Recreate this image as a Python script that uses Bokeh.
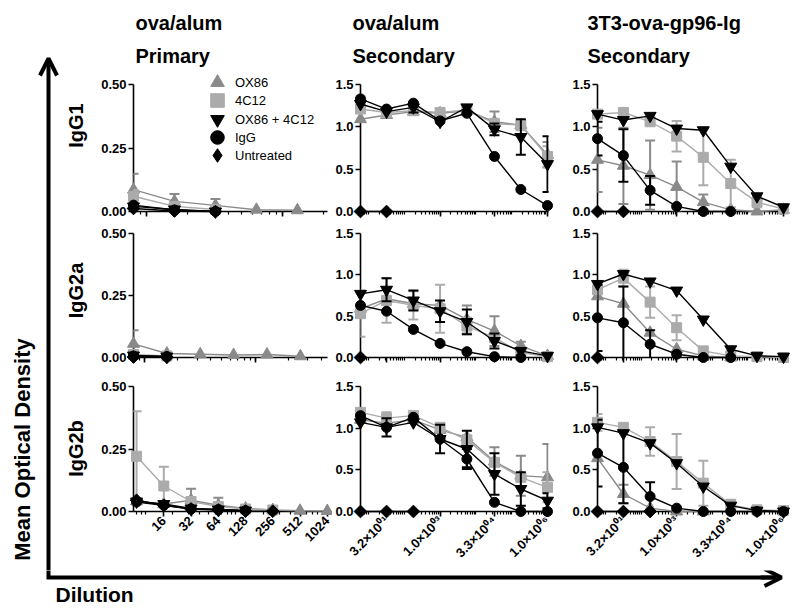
import math
from bokeh.plotting import figure
from bokeh.layouts import row, column
from bokeh.models import (Range1d, ColumnDataSource, Whisker, TeeHead, FixedTicker,
                          Legend, LegendItem, Arrow, OpenHead, Label,
                          NumeralTickFormatter, CustomJSTickFormatter)
from bokeh.embed import file_html
from bokeh.resources import INLINE

FONT = "Liberation Sans"

# ---------------------------------------------------------------- data
SERIES_NAMES = ["OX86", "4C12", "OX86 + 4C12", "IgG", "Untreated"]
ROW_LABELS = ["IgG1", "IgG2a", "IgG2b"]
COL_TITLE_1 = ["ova/alum", "ova/alum", "3T3-ova-gp96-Ig"]
COL_TITLE_2 = ["Primary", "Secondary", "Secondary"]

PRI_X_IGG1 = [8, 16, 32, 64, 128]
PRI_X_IGG2A = [8, 16, 32, 64, 128, 256]
PRI_X_IGG2B = [8, 16, 32, 64, 128, 256, 512, 1024]
SEC_X = [6, 32, 180, 1000, 5600, 33000, 180000, 1000000]

PRI_TICKS = [16, 32, 64, 128, 256, 512, 1024]
SEC_TICKS = [32, 1000, 33000, 1000000]
SEC_TICK_LABELS = ["3.2×10⁰¹", "1.0×10⁰³", "3.3×10⁰⁴", "1.0×10⁰⁶"]
PRI_Y_TICKS = [0, 0.25, 0.5]
SEC_Y_TICKS = [0, 0.5, 1.0, 1.5]

# IgG1 - ova/alum primary
A1_OX86 = [0.086, 0.040, 0.024, 0.007, 0.005]
A1_OX86_ERR = [0.063, 0.029, 0.025, 0, 0]
A1_4C12 = [0.060, 0.020, 0.008]
A1_4C12_ERR = [0.025, 0.015, 0]
A1_DUAL = [0.020, 0.008, 0.0]
A1_IGG = [0.025, 0.006, 0.0]
A1_UNT = [0.012, 0.002, 0.0]

# IgG2a - ova/alum primary
A2_OX86 = [0.055, 0.016, 0.013, 0.010, 0.012, 0.005]
A2_OX86_ERR = [0.055, 0, 0, 0, 0, 0]
A2_4C12 = [0.012, 0.006]
A2_4C12_ERR = [0, 0]
A2_DUAL = [0.008, 0.004]
A2_IGG = [0.006, 0.004]
A2_UNT = [0.002, 0.001]

# IgG2b - ova/alum primary
A3_OX86 = [0.040, 0.030, 0.045, 0.025, 0.012, 0.006, 0.003, 0.002]
A3_OX86_ERR = [0, 0, 0.046, 0.030, 0, 0, 0, 0]
A3_4C12 = [0.221, 0.102, 0.040, 0.020, 0.010, 0.006]
A3_4C12_ERR = [0.180, 0.077, 0, 0, 0, 0]
A3_DUAL = [0.040, 0.030, 0.012, 0.008, 0.004]
A3_IGG = [0.038, 0.025, 0.010, 0.008, 0.003]
A3_UNT = [0.045, 0.025, 0.010, 0.006, 0.002, 0.001]

# IgG1 - ova/alum secondary
B1_OX86 = [1.09, 1.14, 1.18, 1.16, 1.19, 1.06, 1.02, 0.67]
B1_OX86_ERR = [0, 0, 0, 0, 0, 0.12, 0, 0.15]
B1_4C12 = [1.21, 1.17, 1.19, 1.17, 1.20, 1.04, 1.02, 0.65]
B1_4C12_ERR = [0, 0, 0, 0, 0, 0, 0.06, 0.12]
B1_DUAL = [1.27, 1.18, 1.23, 1.06, 1.23, 0.97, 0.88, 0.56]
B1_DUAL_ERR = [0, 0, 0.06, 0, 0, 0.07, 0.21, 0.33]
B1_IGG = [1.33, 1.21, 1.28, 1.07, 1.16, 0.65, 0.26, 0.07]
B1_UNT = [0.0, 0.0]

# IgG2a - ova/alum secondary
B2_OX86 = [0.59, 0.71, 0.65, 0.63, 0.46, 0.32, 0.14, 0.02]
B2_OX86_ERR = [0, 0, 0, 0, 0.17, 0.18, 0.05, 0]
B2_4C12 = [0.53, 0.69, 0.63, 0.59, 0.38, 0.24, 0.06, 0.01]
B2_4C12_ERR = [0.28, 0.27, 0.17, 0.29, 0.10, 0, 0, 0]
B2_DUAL = [0.77, 0.82, 0.69, 0.56, 0.43, 0.20, 0.08, 0.02]
B2_DUAL_ERR = [0, 0.14, 0.12, 0.13, 0.15, 0.09, 0, 0]
B2_IGG = [0.63, 0.56, 0.34, 0.17, 0.07, 0.01, 0.0]
B2_UNT = [0.0]

# IgG2b - ova/alum secondary
B3_OX86 = [1.10, 1.06, 1.10, 0.98, 0.89, 0.60, 0.43, 0.41]
B3_OX86_ERR = [0, 0, 0, 0, 0, 0.17, 0.24, 0.40]
B3_4C12 = [1.19, 1.12, 1.15, 1.01, 0.86, 0.59, 0.41, 0.29]
B3_4C12_ERR = [0, 0.07, 0, 0, 0, 0, 0, 0.18]
B3_DUAL = [1.07, 1.01, 1.07, 0.87, 0.75, 0.45, 0.27, 0.13]
B3_DUAL_ERR = [0, 0.11, 0, 0.17, 0.22, 0.25, 0.20, 0.09]
B3_IGG = [1.15, 1.01, 1.13, 0.87, 0.63, 0.11, 0.0, 0.0]
B3_IGG_ERR = [0, 0, 0, 0, 0.12, 0, 0, 0]
B3_UNT = [0.0, 0.0, 0.0]

# IgG1 - 3T3-ova-gp96-Ig secondary
C1_OX86 = [0.61, 0.54, 0.43, 0.29, 0.11, 0.02, 0.0, 0.02]
C1_OX86_ERR = [0.38, 0.45, 0.41, 0.30, 0.09, 0, 0, 0]
C1_4C12 = [1.15, 1.17, 1.06, 0.89, 0.64, 0.33, 0.11, 0.03]
C1_4C12_ERR = [0, 0, 0, 0.18, 0.33, 0.28, 0.06, 0]
C1_DUAL = [1.15, 1.08, 1.13, 0.98, 0.96, 0.53, 0.18, 0.05]
C1_IGG = [0.86, 0.66, 0.25, 0.06, 0.0, 0.0]
C1_IGG_ERR = [0.20, 0.31, 0.17, 0, 0, 0]
C1_UNT = [0.0, 0.0]

# IgG2a - 3T3-ova-gp96-Ig secondary
C2_OX86 = [0.74, 0.65, 0.30, 0.10, 0.02, 0.0]
C2_4C12 = [0.82, 0.96, 0.67, 0.36, 0.08, 0.02, 0.01, 0.0]
C2_4C12_ERR = [0, 0.10, 0.19, 0.15, 0, 0, 0, 0]
C2_DUAL = [0.89, 1.01, 0.92, 0.81, 0.46, 0.10, 0.02, 0.01]
C2_IGG = [0.48, 0.42, 0.16, 0.04, 0.0, 0.0]
C2_IGG_ERR = [0.40, 0.44, 0.17, 0, 0, 0]
C2_UNT = [0.0]

# IgG2b - 3T3-ova-gp96-Ig secondary
C3_OX86 = [0.64, 0.21, 0.04, 0.0, 0.0]
C3_OX86_ERR = [0, 0.11, 0, 0, 0]
C3_4C12 = [1.07, 1.01, 0.84, 0.60, 0.34, 0.08, 0.02, 0.01]
C3_4C12_ERR = [0.10, 0, 0.17, 0.33, 0.27, 0.06, 0, 0]
C3_DUAL = [1.01, 0.94, 0.82, 0.58, 0.30, 0.07, 0.01, 0.0]
C3_IGG = [0.70, 0.53, 0.18, 0.04, 0.0, 0.0, 0.0, 0.0]
C3_IGG_ERR = [0.40, 0.43, 0.17, 0, 0, 0, 0, 0]
C3_UNT = [0.0, 0.0, 0.0]

# ---------------------------------------------------------------- assembly
PANELS = [
    [  # row IgG1
        (PRI_X_IGG1, [A1_OX86, A1_4C12, A1_DUAL, A1_IGG, A1_UNT],
         [A1_OX86_ERR, A1_4C12_ERR, None, None, None]),
        (SEC_X, [B1_OX86, B1_4C12, B1_DUAL, B1_IGG, B1_UNT],
         [B1_OX86_ERR, B1_4C12_ERR, B1_DUAL_ERR, None, None]),
        (SEC_X, [C1_OX86, C1_4C12, C1_DUAL, C1_IGG, C1_UNT],
         [C1_OX86_ERR, C1_4C12_ERR, None, C1_IGG_ERR, None]),
    ],
    [  # row IgG2a
        (PRI_X_IGG2A, [A2_OX86, A2_4C12, A2_DUAL, A2_IGG, A2_UNT],
         [A2_OX86_ERR, A2_4C12_ERR, None, None, None]),
        (SEC_X, [B2_OX86, B2_4C12, B2_DUAL, B2_IGG, B2_UNT],
         [B2_OX86_ERR, B2_4C12_ERR, B2_DUAL_ERR, None, None]),
        (SEC_X, [C2_OX86, C2_4C12, C2_DUAL, C2_IGG, C2_UNT],
         [None, C2_4C12_ERR, None, C2_IGG_ERR, None]),
    ],
    [  # row IgG2b
        (PRI_X_IGG2B, [A3_OX86, A3_4C12, A3_DUAL, A3_IGG, A3_UNT],
         [A3_OX86_ERR, A3_4C12_ERR, None, None, None]),
        (SEC_X, [B3_OX86, B3_4C12, B3_DUAL, B3_IGG, B3_UNT],
         [B3_OX86_ERR, B3_4C12_ERR, B3_DUAL_ERR, B3_IGG_ERR, None]),
        (SEC_X, [C3_OX86, C3_4C12, C3_DUAL, C3_IGG, C3_UNT],
         [C3_OX86_ERR, C3_4C12_ERR, None, C3_IGG_ERR, None]),
    ],
]

# marker, colour, size, angle
STYLES = [
    ("triangle", "#8a8a8a", 12, 0.0),
    ("square", "#ababab", 10, 0.0),
    ("inverted_triangle", "black", 12, 0.0),
    ("circle", "black", 10, 0.0),
    ("square", "black", 9, math.pi / 4),
]

# layout geometry (pixels); page origin is the top-left corner
COL_W = [242, 233, 233]
COL_BL = [43, 27, 32]
COL_BR = [5, 17, 10]
ROW_H = [150, 150, 198]
ROW_BT = [12, 11, 14]
ROW_BB = [11, 15, 59]
ROW_EXTRA_TOP = [10, 0, 0]   # frame grows upward (axis stays bounded) so the key is not clipped
X_RANGES = [
    [(8, 213), (6, 1.066e6), (6, 1.38e6)],
    [(8, 450), (6, 1.066e6), (6, 1.38e6)],
    [(7.4, 1030), (6, 1.066e6), (6, 1.38e6)],
]
Y_MAX = [0.5, 1.5, 1.5]
LEGEND_ROW_Y = [82, 100, 119, 137, 155]   # centre of each key row (page px)


def log_minor(lo, hi):
    out = []
    for k in range(0, 8):
        for m in range(1, 10):
            v = m * 10 ** k
            if lo <= v <= hi:
                out.append(v)
    return out


def style_axis(ax):
    ax.axis_line_width = 1.6
    ax.axis_line_color = "black"
    ax.major_tick_line_width = 1.6
    ax.minor_tick_line_width = 1.2
    ax.major_tick_in = 0
    ax.major_tick_out = 5
    ax.minor_tick_in = 0
    ax.minor_tick_out = 3
    ax.major_label_text_font = FONT
    ax.major_label_text_font_style = "bold"
    ax.major_label_text_font_size = "13px"
    ax.major_label_text_color = "black"
    ax.major_label_standoff = 2


def make_panel(r, c):
    xs, vals, errs = PANELS[r][c]
    xr = X_RANGES[r][c]
    inner = ROW_H[r] - ROW_BT[r] - ROW_BB[r]
    extra = ROW_EXTRA_TOP[r]
    top = ROW_BT[r] - extra
    ymax = Y_MAX[c] * (inner + extra) / inner
    p = figure(width=COL_W[c], height=ROW_H[r], x_axis_type="log",
               x_range=Range1d(*xr), y_range=Range1d(0, ymax),
               output_backend="svg", toolbar_location=None,
               min_border_left=COL_BL[c], min_border_right=COL_BR[c],
               min_border_top=top, min_border_bottom=ROW_BB[r])
    p.grid.visible = False
    p.outline_line_color = None
    p.background_fill_color = "white"
    p.border_fill_color = "white"

    xa = p.xaxis[0]
    ya = p.yaxis[0]
    style_axis(xa)
    style_axis(ya)
    ya.minor_tick_out = 0
    ya.bounds = (0, Y_MAX[c])
    if c == 0:
        ya.ticker = FixedTicker(ticks=PRI_Y_TICKS)
        ya.formatter = NumeralTickFormatter(format="0.00")
        if r == 2:
            xa.ticker = FixedTicker(ticks=PRI_TICKS, minor_ticks=log_minor(*xr))
            xa.formatter = NumeralTickFormatter(format="0")
            xa.major_label_orientation = math.pi / 4
        else:
            xa.ticker = FixedTicker(ticks=[10, 100], minor_ticks=log_minor(*xr))
            xa.formatter = CustomJSTickFormatter(code="return ''")
    else:
        ya.ticker = FixedTicker(ticks=SEC_Y_TICKS)
        ya.formatter = NumeralTickFormatter(format="0.0")
        xa.ticker = FixedTicker(ticks=SEC_TICKS, minor_ticks=log_minor(*xr))
        if r == 2:
            xa.formatter = CustomJSTickFormatter(
                args=dict(tk=SEC_TICKS, lbl=SEC_TICK_LABELS),
                code="const i = tk.indexOf(tick); return i >= 0 ? lbl[i] : '';")
            xa.major_label_orientation = math.pi / 4
        else:
            xa.formatter = CustomJSTickFormatter(code="return ''")

    scatter_rs = []
    for (marker, color, size, angle), y, err in zip(STYLES, vals, errs):
        x = xs[:len(y)]
        if err is not None:
            bx = [xi for xi, e in zip(x, err) if e > 0]
            lo = [yi - e for yi, e in zip(y, err) if e > 0]
            hi = [yi + e for yi, e in zip(y, err) if e > 0]
            if bx:
                wsrc = ColumnDataSource(dict(base=bx, lower=lo, upper=hi))
                w = Whisker(source=wsrc, base="base", lower="lower", upper="upper",
                            dimension="height", line_color=color, line_width=2,
                            upper_head=TeeHead(size=10, line_color=color, line_width=2),
                            lower_head=TeeHead(size=10, line_color=color, line_width=2),
                            level="overlay")
                p.renderers.append(w)
        src = ColumnDataSource(dict(x=x, y=y))
        p.line("x", "y", source=src, line_color=color, line_width=1.4, level="overlay")
        sr = p.scatter("x", "y", source=src, marker=marker, size=size, angle=angle,
                       fill_color=color, line_color=color, level="overlay")
        scatter_rs.append(sr)

    if r == 0 and c == 0:
        frame_bottom = 72 + ROW_H[0] - ROW_BB[0]
        for name, (marker, color, size, angle), sr, yc in zip(
                SERIES_NAMES, STYLES, scatter_rs, LEGEND_ROW_Y):
            if angle:
                # key glyph for the rotated-square marker
                sr = p.scatter([xs[0]], [float("nan")], marker="diamond",
                               fill_color=color, line_color=color)
            leg = Legend(items=[LegendItem(label=name, renderers=[sr])],
                         location=(67, frame_bottom - (yc + 17)),
                         glyph_width=34, glyph_height=34, label_height=34,
                         padding=0, margin=0, label_standoff=1,
                         border_line_color=None, background_fill_alpha=0,
                         label_text_font=FONT, label_text_font_size="13px",
                         label_text_color="black")
            p.add_layout(leg)
    return p


grid_rows = []
for r in range(3):
    grid_rows.append(row([make_panel(r, c) for c in range(3)], spacing=0))
grid = column(grid_rows, spacing=0)


def deco_fig(w, h, xr, yr):
    f = figure(width=w, height=h, x_range=Range1d(*xr), y_range=Range1d(*yr),
               output_backend="svg", toolbar_location=None,
               x_axis_type=None, y_axis_type=None, min_border=0)
    f.grid.visible = False
    f.outline_line_color = None
    return f


# header with column titles
header = deco_fig(708, 72, (90, 798), (72, 0))
for x0, t1, t2 in zip([135, 352, 587], COL_TITLE_1, COL_TITLE_2):
    for yy, t in ((22, t1), (55, t2)):
        header.add_layout(Label(x=x0, y=yy, text=t, text_font=FONT, text_font_style="bold",
                                text_font_size="20px", text_baseline="middle",
                                text_align="left", text_color="black"))

# left strip: vertical arrow, y title, row labels
left = deco_fig(90, 570, (0, 90), (570, 0))
left.add_layout(Arrow(end=OpenHead(size=17, line_width=4, line_color="black"),
                      x_start=48, y_start=575, x_end=48, y_end=58,
                      line_width=4, line_color="black"))
left.add_layout(Label(x=22, y=449, text="Mean Optical Density", angle=math.pi / 2,
                      text_font=FONT, text_font_style="bold", text_font_size="22px",
                      text_align="center", text_baseline="middle", text_color="black"))
for yy, t in zip([125, 290, 448], ROW_LABELS):
    left.add_layout(Label(x=75, y=yy, text=t, angle=math.pi / 2,
                          text_font=FONT, text_font_style="bold", text_font_size="20px",
                          text_align="center", text_baseline="middle", text_color="black"))

# bottom strip: horizontal arrow and x title
bottom = deco_fig(798, 42, (0, 798), (612, 570))
bottom.line([48, 48, 776], [560, 577, 577], line_width=4, line_color="black",
            line_join="miter")
bottom.add_layout(Arrow(end=OpenHead(size=17, line_width=4, line_color="black"),
                        x_start=760, y_start=577, x_end=781, y_end=577,
                        line_width=4, line_color="black"))
bottom.add_layout(Label(x=55, y=594, text="Dilution", text_font=FONT,
                        text_font_style="bold", text_font_size="21px",
                        text_align="left", text_baseline="middle", text_color="black"))

layout = column(row(left, column(header, grid, spacing=0), spacing=0), bottom, spacing=0)

open("out.html", "w").write(file_html(layout, INLINE))
